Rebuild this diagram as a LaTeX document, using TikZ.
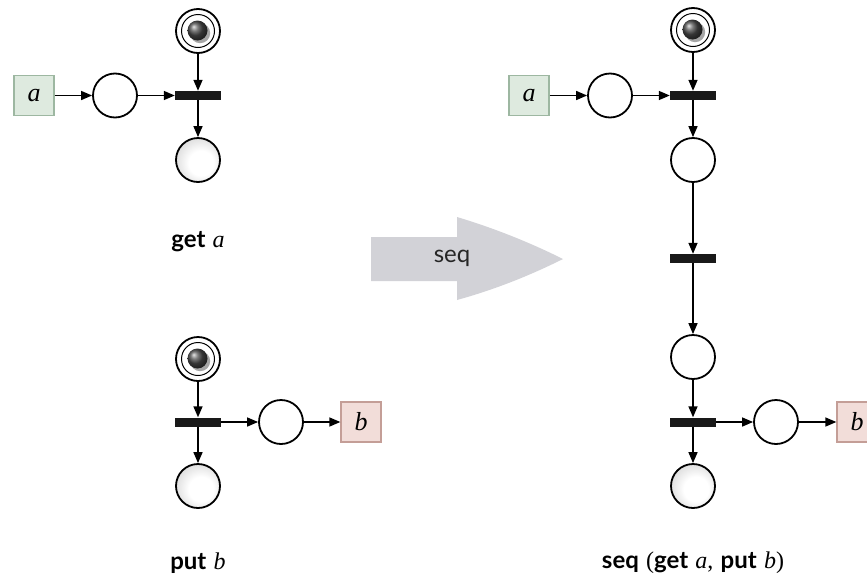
\documentclass[tikz,border=0pt]{standalone}
\usepackage{fontspec}
\newfontfamily\labfont{Lato}
\newfontfamily\varfont{Liberation Serif}
\usetikzlibrary{arrows.meta}

% light centre, slightly to the lower right, for an empty end place
\pgfdeclareradialshading{emptyplace}{\pgfpoint{5bp}{-5bp}}{%
  color(0bp)=(white);color(14bp)=(white);color(34bp)=(black!18);color(50bp)=(black!45)}

\definecolor{inboxfill}{HTML}{DEEADF}
\definecolor{inboxline}{HTML}{9DB7A1}
\definecolor{outboxfill}{HTML}{F2DDD9}
\definecolor{outboxline}{HTML}{C49E97}
\definecolor{seqgray}{HTML}{D2D2D7}

\newcommand{\kw}[1]{{\labfont\bfseries #1}}
\newcommand{\var}[1]{{\varfont\itshape #1}}
\newcommand{\sym}[1]{{\varfont #1}}

\tikzset{
  place/.style={circle, draw, line width=1.8pt, minimum size=44pt, inner sep=0pt, fill=white},
  token/.style={path picture={
      \draw[line width=1pt] (path picture bounding box.center) circle[radius=16.5pt];
      \fill[black!35] ([shift={(2.2,2.2)}]path picture bounding box.center) circle[radius=10pt];
      \shade[ball color=black!70] ([shift={(-0.5,-0.5)}]path picture bounding box.center) circle[radius=10pt];
  }},
  endplace/.style={place, shade, shading=emptyplace},
  trans/.style={rectangle, fill=black!90, minimum width=46pt, minimum height=9pt, inner sep=0pt},
  inbox/.style={rectangle, draw=inboxline, fill=inboxfill, line width=1.3pt, minimum size=40pt, inner sep=0pt, font=\fontsize{26}{30}\selectfont},
  outbox/.style={rectangle, draw=outboxline, fill=outboxfill, line width=1.3pt, minimum size=40pt, inner sep=0pt, font=\fontsize{26}{30}\selectfont},
  arc/.style={-{Triangle[length=11pt,width=9pt]}, line width=1.5pt},
  caption/.style={font=\fontsize{24}{29}\selectfont, inner sep=0pt},
}

\begin{document}
\begin{tikzpicture}[x=1pt, y=-1pt]
\useasboundingbox (0,0) rectangle (867,584);

% ---- get a ----
\node[place, token] (gs) at (198,31) {};
\node[trans] (gt) at (198,95.5) {};
\node[place] (gp) at (115,95.5) {};
\node[inbox] (ga) at (34,95.5) {\var{a}};
\node[endplace] (ge) at (198,160) {};
\draw[arc] (gs) -- (gt);
\draw[arc] (ga) -- (gp);
\draw[arc] (gp) -- (gt);
\draw[arc] (gt) -- (ge);
\node[caption] (glab) at (198,242) {\kw{get} \var{a}};

% ---- put b ----
\node[place, token] (ps) at (198,359) {};
\node[trans] (pt) at (198,422) {};
\node[place] (pp) at (281,422) {};
\node[outbox] (pb) at (361,422) {\var{b}};
\node[endplace] (pe) at (198,486) {};
\draw[arc] (ps) -- (pt);
\draw[arc] (pt) -- (pp);
\draw[arc] (pp) -- (pb);
\draw[arc] (pt) -- (pe);
\node[caption] (plab) at (198,563) {\kw{put} \var{b}};

% ---- the seq operator ----
\fill[seqgray] (371,237) -- (457,237) -- (457,217)
  .. controls (497,229) and (533,244) .. (563,259)
  .. controls (533,274) and (497,289) .. (457,300)
  -- (457,281) -- (371,281) -- cycle;
\node[font=\fontsize{24}{29}\selectfont\labfont, text=black!85, inner sep=0pt] (seqop) at (452,258) {seq};

% ---- seq(get a, put b) ----
\node[place, token] (ss) at (693,30) {};
\node[trans] (st1) at (693,95.5) {};
\node[place] (sp1) at (610,95.5) {};
\node[inbox] (sa) at (529,95.5) {\var{a}};
\node[place] (sp2) at (693,160) {};
\node[trans] (st2) at (693,258.5) {};
\node[place] (sp3) at (693,357) {};
\node[trans] (st3) at (693,422) {};
\node[place] (sp4) at (776,422) {};
\node[outbox] (sb) at (857,422) {\var{b}};
\node[endplace] (se) at (693,486) {};
\draw[arc] (ss) -- (st1);
\draw[arc] (sa) -- (sp1);
\draw[arc] (sp1) -- (st1);
\draw[arc] (st1) -- (sp2);
\draw[arc] (sp2) -- (st2);
\draw[arc] (st2) -- (sp3);
\draw[arc] (sp3) -- (st3);
\draw[arc] (st3) -- (sp4);
\draw[arc] (sp4) -- (sb);
\draw[arc] (st3) -- (se);
\node[caption] (slab) at (693,563) {\kw{seq} \sym{(}\kw{get} \var{a}\sym{,} \kw{put} \var{b}\sym{)}};
\end{tikzpicture}
\end{document}
